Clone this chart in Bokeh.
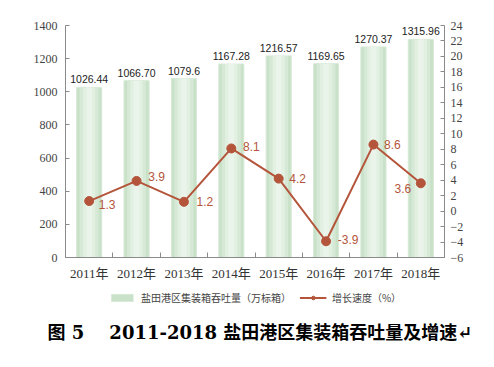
from bokeh.plotting import figure
from bokeh.layouts import column
from bokeh.models import (ColumnDataSource, Range1d, LinearAxis, FixedTicker, Legend,
                          LegendItem, LabelSet, Title)
from bokeh.core.properties import value
from bokeh.embed import file_html
from bokeh.resources import INLINE

years = ["2011年", "2012年", "2013年", "2014年", "2015年", "2016年", "2017年", "2018年"]
throughput = [1026.44, 1066.70, 1079.6, 1167.28, 1216.57, 1169.65, 1270.37, 1315.96]
throughput_labels = ["1026.44", "1066.70", "1079.6", "1167.28", "1216.57", "1169.65", "1270.37", "1315.96"]
growth = [1.3, 3.9, 1.2, 8.1, 4.2, -3.9, 8.6, 3.6]
growth_labels = ["1.3", "3.9", "1.2", "8.1", "4.2", "-3.9", "8.6", "3.6"]
left_ticks = [0, 200, 400, 600, 800, 1000, 1200, 1400]
right_ticks = list(range(-6, 26, 2))
bar_name = "盐田港区集装箱吞吐量（万标箱）"
line_name = "增长速度（%）"
title_text = "图 5\u00a0\u00a0\u00a0\u00a02011-2018 盐田港区集装箱吞吐量及增速↵"

# label offsets (styling)
g_dx = [18, 20, 21, 20, 19, 22, 19, -18]
g_dy = [-3, 4, 0, 2, 0, 2, 0, -5]

n = len(years)
xs = [i + 0.5 for i in range(n)]
src = ColumnDataSource(dict(x=xs, top=throughput, tl=throughput_labels, g=growth,
                            gl=growth_labels, dx=g_dx, dy=g_dy))

LINE = "#B4553B"
AX = "#8a8a8a"
SERIF = "Liberation Serif, Noto Sans CJK SC"
BAR_FILL = "#c8e1c8"
BAR_EDGE = "#d7e9d7"

p = figure(frame_width=379, frame_height=232, output_backend="svg", toolbar_location=None,
           x_range=Range1d(0, n), y_range=Range1d(0, 1400),
           min_border_left=65, min_border_right=42, min_border_top=25, min_border_bottom=32,
           x_axis_type=None, y_axis_type=None)
p.outline_line_color = None
p.xgrid.visible = False
p.ygrid.visible = False
p.extra_y_ranges = {"rate": Range1d(-6, 24)}

# bars with faux gradient
p.vbar(x="x", top="top", width=0.53, source=src, fill_color=BAR_FILL, line_color=BAR_EDGE)
p.vbar(x="x", top="top", width=0.40, source=src, fill_color="#d6e9d6", line_color=None)
p.vbar(x="x", top="top", width=0.26, source=src, fill_color="#e2f0e2", line_color=None)
p.vbar(x="x", top="top", width=0.12, source=src, fill_color="#eaf4ea", line_color=None)

p.add_layout(LabelSet(x="x", y="top", text="tl", source=src, text_align="center",
                      text_baseline="bottom", y_offset=4, text_font_size=value("10.5px"),
                      text_font=value("Liberation Sans"), text_color="#222222"))

# line
p.line(x="x", y="g", source=src, y_range_name="rate", line_color=LINE, line_width=2)
p.scatter(x="x", y="g", source=src, y_range_name="rate", size=9, fill_color=LINE,
          line_color=LINE)
p.add_layout(LabelSet(x="x", y="g", text="gl", source=src, y_range_name="rate",
                      x_offset="dx", y_offset="dy", text_align="center",
                      text_baseline="middle", text_font_size=value("12px"),
                      text_font=value("Liberation Sans"), text_color=LINE))

def style(ax):
    ax.axis_line_color = AX
    ax.major_tick_line_color = AX
    ax.major_tick_in = 4
    ax.major_tick_out = 0
    ax.minor_tick_line_color = None
    ax.major_label_text_font = SERIF
    ax.major_label_text_color = "#444444"

yl = LinearAxis(ticker=FixedTicker(ticks=left_ticks))
style(yl)
yl.major_label_text_font_size = "12px"
yl.major_label_standoff = 8
p.add_layout(yl, "left")

yr = LinearAxis(y_range_name="rate", ticker=FixedTicker(ticks=right_ticks))
style(yr)
yr.major_label_text_font_size = "12px"
yr.major_label_standoff = 6
p.add_layout(yr, "right")

xa = LinearAxis(ticker=FixedTicker(ticks=xs, minor_ticks=list(range(n + 1))))
style(xa)
xa.major_tick_line_color = None
xa.minor_tick_line_color = AX
xa.minor_tick_in = 5
xa.minor_tick_out = 0
xa.major_label_overrides = {x: y for x, y in zip(xs, years)}
xa.major_label_text_font_size = "13px"
xa.major_label_text_color = "#333333"
xa.major_label_standoff = 8
p.add_layout(xa, "below")

# legend + caption strip (frame aligned with main plot)
p2 = figure(frame_width=379, frame_height=18, output_backend="svg", toolbar_location=None,
            x_range=Range1d(0, 1), y_range=Range1d(0, 1),
            min_border_left=65, min_border_right=42, min_border_top=0, min_border_bottom=8,
            x_axis_type=None, y_axis_type=None)
p2.outline_line_color = None
p2.xgrid.visible = False
p2.ygrid.visible = False
dummy = ColumnDataSource(dict(x=[-1000], y=[-1000], top=[-1000]))
rb = p2.vbar(x="x", top="top", width=1, source=dummy, fill_color=BAR_FILL, line_color=BAR_EDGE)
rl = p2.line(x="x", y="y", source=dummy, line_color=LINE, line_width=2)
rc = p2.scatter(x="x", y="y", source=dummy, size=8, fill_color=LINE, line_color=LINE)

legend = Legend(items=[LegendItem(label=bar_name, renderers=[rb]),
                       LegendItem(label=line_name, renderers=[rl, rc])],
                orientation="horizontal", location="top_center",
                label_text_font="Noto Sans CJK SC", label_text_font_size="10px",
                label_text_color="#444444", glyph_width=27, glyph_height=9,
                label_standoff=6, spacing=8, border_line_color=None,
                background_fill_alpha=0, padding=2, margin=1)
p2.add_layout(legend)

p2.add_layout(Title(text=title_text, align="left", offset=-18,
                    text_font="DejaVu Serif, Noto Sans CJK SC", text_font_size="18px",
                    text_font_style="bold", text_color="#000000", standoff=24), "below")

layout = column(p, p2, spacing=0)
open("out.html", "w").write(file_html(layout, INLINE))
